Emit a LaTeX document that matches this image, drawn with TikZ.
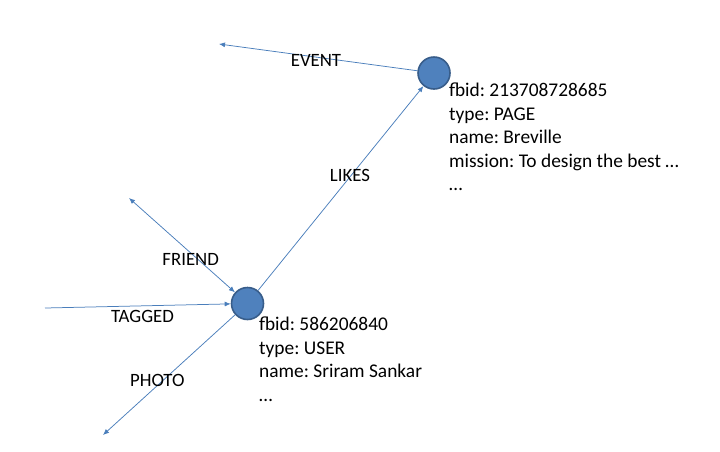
\documentclass[tikz,border=0pt]{standalone}
\usepackage{fontspec}
\setmainfont{Carlito}
\frenchspacing
\usetikzlibrary{arrows.meta}
\definecolor{nodeblue}{HTML}{4F81BD}
\definecolor{nodeedge}{HTML}{385D8A}
\definecolor{linkblue}{HTML}{4A7EBB}
\begin{document}
\begin{tikzpicture}[x=1pt,y=-1pt,
    entity/.style={circle,draw=nodeedge,fill=nodeblue,line width=1.6pt,minimum size=32pt,inner sep=0pt},
    props/.style={anchor=north west,inner sep=0pt,align=left,font=\fontsize{19.4}{23.5}\selectfont},
    rel/.style={anchor=base,inner sep=0pt,font=\fontsize{18.8}{22}\selectfont},
    link/.style={draw=linkblue,line width=0.75pt,-{Latex[length=6pt,width=5pt]}}]
  \useasboundingbox (0,0) rectangle (720,451);
  \draw
    (434,73) node[entity] (page){}
    (247.5,303.5) node[entity] (user){};
  \node[props] (pageinfo) at (449,83) {fbid: 213708728685\\type: PAGE\\name: Breville\\mission: To design the best …\\…};
  \node[props] (userinfo) at (259,317) {fbid: 586206840\\type: USER\\name: Sriram Sankar\\…};
  \coordinate (eventend) at (219,44);
  \coordinate (friendend) at (129,198);
  \coordinate (taggedstart) at (45,308);
  \coordinate (photoend) at (103,435);
  \begin{scope}[link]
    \draw (page) to (eventend);
    \draw (user) to (page);
    \draw[{Latex[length=6pt,width=5pt]}-{Latex[length=6pt,width=5pt]}] (friendend) to (user);
    \draw (taggedstart) to (user);
    \draw (user) to (photoend);
  \end{scope}
  \node[rel] (event) at (316,66) {EVENT};
  \node[rel] (likes) at (350,181) {LIKES};
  \node[rel] (friend) at (190.7,265) {FRIEND};
  \node[rel] (tagged) at (142.5,322.3) {TAGGED};
  \node[rel] (photo) at (157.3,386) {PHOTO};
\end{tikzpicture}
\end{document}
